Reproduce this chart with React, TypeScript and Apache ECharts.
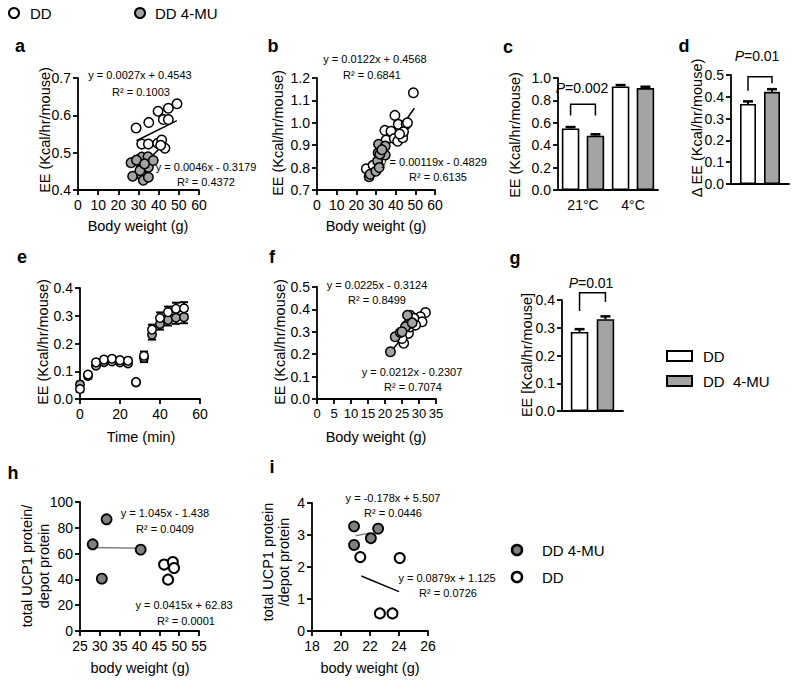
import React, { useEffect, useRef } from 'react';
import * as echarts from 'echarts';

const FONT = "'Liberation Sans', Arial, Helvetica, sans-serif";
const GREY = '#a3a3a3';
const DARK_GREY = '#808080';

// ---------- data ----------
// a: EE vs body weight (21°C)
const aDD = [[28.8, 0.566], [35.1, 0.581], [39.7, 0.611], [44.8, 0.619], [49.1, 0.631], [42.3, 0.589], [44.8, 0.589], [31.6, 0.523], [34.9, 0.523], [39.5, 0.525], [41.5, 0.534], [43.1, 0.512], [41.0, 0.52]];
const a4MU = [[26.3, 0.473], [31.6, 0.488], [34.7, 0.489], [27.1, 0.437], [31.6, 0.463], [34.9, 0.461], [37.3, 0.479], [31.6, 0.439], [32.4, 0.426], [30.7, 0.452], [34.9, 0.434], [29.0, 0.48], [33.0, 0.47]];
const aFitDD = [[29, 0.532], [49, 0.586]];
const aFit4MU = [[33, 0.47], [42, 0.52]];
const aEq = ['y = 0.0027x + 0.4543', 'R² = 0.1003', 'y = 0.0046x - 0.3179', 'R² = 0.4372'];

// b: EE vs body weight (4°C)
const bDD = [[25.1, 0.795], [28.5, 0.81], [34.5, 0.966], [35.1, 0.923], [37.6, 0.962], [39.3, 0.93], [39.6, 1.033], [41.0, 0.918], [41.3, 0.993], [43.6, 0.933], [45.3, 0.993], [44.0, 0.96], [46.0, 1.0], [49.0, 1.134], [42.0, 0.95]];
const b4MU = [[26.5, 0.759], [27.0, 0.77], [29.9, 0.784], [30.8, 0.829], [31.1, 0.866], [31.3, 0.904], [31.6, 0.8], [34.7, 0.896], [34.7, 0.856], [32.0, 0.86], [33.0, 0.88]];
const bFitDD = [[26, 0.775], [49.5, 1.065]];
const bFit4MU = [[26, 0.76], [35, 0.89]];
const bEq = ['y = 0.0122x + 0.4568', 'R² = 0.6841', 'y = 0.00119x - 0.4829', 'R² = 0.6135'];

// c: bars
const cCategories = ['21°C', '4°C'];
const cDD = [0.55, 0.925];
const cDDErr = [0.012, 0.012];
const c4MU = [0.485, 0.91];
const c4MUErr = [0.012, 0.012];
const cBracket = { cat: 0, top: 0.766, left: 0.665, right: 0.665, label: '=0.002' };

// d: delta EE
const dDD = [0.367];
const dDDErr = [0.012];
const d4MU = [0.423];
const d4MUErr = [0.012];
const dBracket = { cat: 0, top: 0.492, left: 0.428, right: 0.462, label: '=0.01' };

// e: time course
const eTime = [0, 4, 8, 12, 16, 20, 24, 28, 32, 36, 40, 44, 48, 52];
const eDD = [0.036, 0.088, 0.132, 0.142, 0.145, 0.14, 0.138, 0.061, 0.156, 0.25, 0.292, 0.313, 0.325, 0.327];
const eDDErr = [0.01, 0.008, 0.008, 0.008, 0.008, 0.008, 0.008, 0.008, 0.015, 0.018, 0.02, 0.02, 0.022, 0.022];
const e4MU = [0.052, 0.083, 0.12, 0.133, 0.135, 0.132, 0.128, 0.06, 0.148, 0.232, 0.27, 0.285, 0.293, 0.295];
const e4MUErr = [0.01, 0.008, 0.008, 0.008, 0.008, 0.008, 0.008, 0.008, 0.015, 0.018, 0.02, 0.02, 0.022, 0.022];

// f: EE vs body weight
const fDD = [[25.5, 0.249], [27.4, 0.374], [26.9, 0.293], [31.9, 0.386], [30.4, 0.367], [30.9, 0.345], [27.4, 0.322], [29.0, 0.33], [28.5, 0.36], [25.0, 0.27]];
const f4MU = [[21.6, 0.211], [23.0, 0.278], [24.5, 0.297], [26.5, 0.33], [26.6, 0.374], [26.0, 0.322], [25.0, 0.3], [28.0, 0.34]];
const fFitDD = [[24.5, 0.27], [30, 0.345]];
const fFit4MU = [[21.4, 0.205], [26.5, 0.3]];
const fEq = ['y = 0.0225x - 0.3124', 'R² = 0.8499', 'y = 0.0212x - 0.2307', 'R² = 0.7074'];

// g: bars
const gDD = [0.285];
const gDDErr = [0.01];
const g4MU = [0.331];
const g4MUErr = [0.01];
const gBracket = { cat: 0, top: 0.426, left: 0.36, right: 0.393, label: '=0.01' };

// h: UCP1 vs body weight
const hDD = [[46.2, 51.5], [48.4, 53.5], [48.7, 48.8], [47.2, 39.8]];
const h4MU = [[28.2, 67.2], [31.7, 86.6], [30.5, 40.6], [40.3, 63.1]];
const hFit4MU = [[28, 64.8], [40, 64.2]];
const hEq = ['y = 1.045x - 1.438', 'R² = 0.0409', 'y = 0.0415x + 62.83', 'R² = 0.0001'];

// i: UCP1 vs body weight
const iDD = [[21.33, 2.31], [24.05, 2.28], [22.68, 0.55], [23.55, 0.55]];
const i4MU = [[20.9, 3.27], [20.9, 2.69], [22.06, 2.9], [22.56, 3.2]];
const iFit4MU = [[21, 2.98], [22, 3.06]];
const iFitDD = [[21.4, 1.72], [24, 1.23]];
const iEq = ['y = -0.178x + 5.507', 'R² = 0.0446', 'y = 0.0879x + 1.125', 'R² = 0.0726'];

// ---------- layout / styles ----------
const grids = [
  { left: 78, top: 78, width: 121, height: 112 }, // a
  { left: 317, top: 78, width: 118, height: 112 }, // b
  { left: 558, top: 78, width: 100, height: 112 }, // c
  { left: 731, top: 75, width: 58, height: 109 }, // d
  { left: 80, top: 288, width: 120, height: 111 }, // e
  { left: 317, top: 287, width: 119, height: 112 }, // f
  { left: 562, top: 300, width: 61, height: 111 }, // g
  { left: 80, top: 502, width: 119, height: 129 }, // h
  { left: 312, top: 503, width: 116, height: 128 }, // i
];

const axisLine = { show: true, onZero: false, lineStyle: { color: '#000', width: 1.8 } };
const axisTick = { show: true, length: 5, lineStyle: { color: '#000', width: 1.8 } };

function valX(idx: number, min: number, max: number, interval: number, fontSize = 14) {
  return {
    type: 'value', gridIndex: idx, min, max, interval,
    axisLine, axisTick, splitLine: { show: false },
    axisLabel: { color: '#000', fontSize, fontFamily: FONT, margin: 8 },
  };
}
function valY(idx: number, min: number, max: number, interval: number, dec: number) {
  return {
    type: 'value', gridIndex: idx, min, max, interval,
    axisLine, axisTick, splitLine: { show: false },
    axisLabel: { color: '#000', fontSize: 14, fontFamily: FONT, margin: 7, formatter: (v: number) => v.toFixed(dec) },
  };
}
function catX(idx: number, data: string[], showLabel: boolean) {
  return {
    type: 'category', gridIndex: idx, data,
    axisLine, axisTick: { show: false }, splitLine: { show: false },
    axisLabel: { show: showLabel, color: '#000', fontSize: 14, fontFamily: FONT, margin: 8 },
  };
}

function scat(data: number[][], idx: number, fill: string, size = 9, bw = 1.5) {
  return {
    type: 'scatter', xAxisIndex: idx, yAxisIndex: idx, data, symbol: 'circle', symbolSize: size,
    itemStyle: { color: fill, borderColor: '#000', borderWidth: bw, opacity: 1 }, z: 4,
  };
}
function fit(data: number[][], idx: number, color = '#000') {
  return {
    type: 'line', xAxisIndex: idx, yAxisIndex: idx, data, symbol: 'none', silent: true,
    lineStyle: { color, width: 1.5 }, z: 3,
  };
}
function bars(data: number[], idx: number, fill: string, barWidth: number, barGap: number) {
  return {
    type: 'bar', xAxisIndex: idx, yAxisIndex: idx, data, barWidth, barGap: `${barGap * 100}%`,
    itemStyle: { color: fill, borderColor: '#000', borderWidth: 1.6 }, z: 2,
  };
}
function barErr(vals: number[], errs: number[], idx: number, sign: number, barWidth: number, barGap: number) {
  return {
    type: 'custom', xAxisIndex: idx, yAxisIndex: idx, z: 5, silent: true,
    encode: { x: 0, y: 1 },
    data: vals.map((v, i) => [i, v, errs[i]]),
    renderItem: (_p: any, api: any) => {
      const off = sign * barWidth * (1 + barGap) / 2;
      const base = api.coord([api.value(0), api.value(1)]);
      const top = api.coord([api.value(0), api.value(1) + api.value(2)]);
      const x = base[0] + off;
      return {
        type: 'group', children: [
          { type: 'line', shape: { x1: x, y1: base[1], x2: x, y2: top[1] }, style: { stroke: '#000', lineWidth: 2 } },
          { type: 'line', shape: { x1: x - 5, y1: top[1], x2: x + 5, y2: top[1] }, style: { stroke: '#000', lineWidth: 2.5 } },
        ],
      };
    },
  };
}
function bracket(b: { cat: number; top: number; left: number; right: number }, idx: number, barWidth: number, barGap: number) {
  return {
    type: 'custom', xAxisIndex: idx, yAxisIndex: idx, z: 5, silent: true,
    encode: { x: 0, y: 1 },
    data: [[b.cat, b.top, b.left, b.right]],
    renderItem: (_p: any, api: any) => {
      const off = barWidth * (1 + barGap) / 2;
      const t = api.coord([api.value(0), api.value(1)]);
      const l = api.coord([api.value(0), api.value(2)]);
      const r = api.coord([api.value(0), api.value(3)]);
      return {
        type: 'polyline',
        shape: { points: [[t[0] - off, l[1]], [t[0] - off, t[1]], [t[0] + off, t[1]], [t[0] + off, r[1]]] },
        style: { stroke: '#000', lineWidth: 1.5, fill: 'none' },
      };
    },
  };
}
function pointErr(xs: number[], ys: number[], errs: number[], idx: number) {
  return {
    type: 'custom', xAxisIndex: idx, yAxisIndex: idx, z: 3, silent: true,
    encode: { x: 0, y: 1 },
    data: xs.map((x, i) => [x, ys[i], errs[i]]),
    renderItem: (_p: any, api: any) => {
      const lo = api.coord([api.value(0), api.value(1) - api.value(2)]);
      const hi = api.coord([api.value(0), api.value(1) + api.value(2)]);
      const x = lo[0];
      return {
        type: 'group', children: [
          { type: 'line', shape: { x1: x, y1: lo[1], x2: x, y2: hi[1] }, style: { stroke: '#000', lineWidth: 2 } },
          { type: 'line', shape: { x1: x - 4, y1: lo[1], x2: x + 4, y2: lo[1] }, style: { stroke: '#000', lineWidth: 2 } },
          { type: 'line', shape: { x1: x - 4, y1: hi[1], x2: x + 4, y2: hi[1] }, style: { stroke: '#000', lineWidth: 2 } },
        ],
      };
    },
  };
}

function txt(text: string, x: number, y: number, size: number, extra: any = {}) {
  const align = extra.align || 'center';
  return {
    type: 'text', x, y, rotation: extra.rotation || 0, z: 10, silent: true,
    style: {
      text, fontSize: size, fontFamily: FONT, fill: '#000', fontWeight: extra.bold ? 'bold' : 'normal',
      align, verticalAlign: 'middle', textAlign: align, textVerticalAlign: 'middle',
      lineHeight: extra.lineHeight, rich: extra.rich,
    },
  };
}
function ptxt(label: string, x: number, y: number) {
  return {
    type: 'text', x, y, z: 10, silent: true,
    style: {
      text: `{i|P}{n|${label}}`, fontSize: 14, fontFamily: FONT, fill: '#000',
      align: 'center', verticalAlign: 'middle', textAlign: 'center', textVerticalAlign: 'middle',
      rich: { i: { fontStyle: 'italic', fontSize: 14, fontFamily: FONT }, n: { fontSize: 14, fontFamily: FONT } },
    },
  };
}
function circle(cx: number, cy: number, fill: string, lw = 2) {
  return { type: 'circle', shape: { cx, cy, r: 5 }, style: { fill, stroke: '#000', lineWidth: lw }, z: 10, silent: true };
}
function rect(x: number, y: number, fill: string) {
  return { type: 'rect', shape: { x, y, width: 25, height: 10 }, style: { fill, stroke: '#000', lineWidth: 2 }, z: 10, silent: true };
}

const ROT = Math.PI / 2;
const BW_C = 17.5, GAP_C = 0.42;
const BW_D = 16, GAP_D = 0.5;
const BW_G = 17.5, GAP_G = 0.48;

function buildOption(): any {
  const eqSize = 11;
  return {
    animation: false,
    backgroundColor: '#fff',
    textStyle: { fontFamily: FONT },
    grid: grids,
    xAxis: [
      valX(0, 0, 60, 10),
      valX(1, 0, 60, 10),
      catX(2, cCategories, true),
      catX(3, [''], false),
      valX(4, 0, 60, 20),
      valX(5, 0, 35, 5, 13),
      catX(6, [''], false),
      valX(7, 25, 55, 5),
      valX(8, 18, 26, 2),
    ],
    yAxis: [
      valY(0, 0.4, 0.7, 0.1, 1),
      valY(1, 0.7, 1.2, 0.1, 1),
      valY(2, 0, 1, 0.2, 1),
      valY(3, 0, 0.5, 0.1, 1),
      valY(4, 0, 0.4, 0.1, 1),
      valY(5, 0, 0.5, 0.1, 1),
      valY(6, 0, 0.4, 0.1, 1),
      valY(7, 0, 100, 20, 0),
      valY(8, 0, 4, 1, 0),
    ],
    series: [
      // a
      fit(aFitDD, 0), fit(aFit4MU, 0),
      scat(a4MU, 0, GREY, 9.5), scat(aDD, 0, '#fff', 9.5),
      // b
      fit(bFitDD, 1), fit(bFit4MU, 1),
      scat(bDD, 1, '#fff', 9.5), scat(b4MU, 1, GREY, 9.5),
      // c
      bars(cDD, 2, '#fff', BW_C, GAP_C), bars(c4MU, 2, GREY, BW_C, GAP_C),
      barErr(cDD, cDDErr, 2, -1, BW_C, GAP_C), barErr(c4MU, c4MUErr, 2, 1, BW_C, GAP_C),
      bracket(cBracket, 2, BW_C, GAP_C),
      // d
      bars(dDD, 3, '#fff', BW_D, GAP_D), bars(d4MU, 3, GREY, BW_D, GAP_D),
      barErr(dDD, dDDErr, 3, -1, BW_D, GAP_D), barErr(d4MU, d4MUErr, 3, 1, BW_D, GAP_D),
      bracket(dBracket, 3, BW_D, GAP_D),
      // e
      pointErr(eTime, e4MU, e4MUErr, 4),
      scat(eTime.map((t, i) => [t, e4MU[i]]), 4, GREY, 8.5),
      pointErr(eTime, eDD, eDDErr, 4),
      scat(eTime.map((t, i) => [t, eDD[i]]), 4, '#fff', 8.5),
      // f
      fit(fFitDD, 5), fit(fFit4MU, 5),
      scat(fDD, 5, '#fff', 9.5), scat(f4MU, 5, GREY, 9.5),
      // g
      bars(gDD, 6, '#fff', BW_G, GAP_G), bars(g4MU, 6, GREY, BW_G, GAP_G),
      barErr(gDD, gDDErr, 6, -1, BW_G, GAP_G), barErr(g4MU, g4MUErr, 6, 1, BW_G, GAP_G),
      bracket(gBracket, 6, BW_G, GAP_G),
      // h
      fit(hFit4MU, 7, DARK_GREY),
      scat(h4MU, 7, DARK_GREY, 10, 1.8), scat(hDD, 7, '#fff', 10, 2),
      // i
      fit(iFit4MU, 8, DARK_GREY), fit(iFitDD, 8),
      scat(i4MU, 8, DARK_GREY, 10, 1.8), scat(iDD, 8, '#fff', 10, 2),
    ],
    graphic: [
      // top legend
      circle(14, 13, '#fff'), txt('DD', 30, 13, 15, { align: 'left' }),
      circle(140, 13, GREY), txt('DD 4-MU', 155, 13, 15, { align: 'left' }),
      // panel letters
      txt('a', 20, 46, 18, { bold: true }),
      txt('b', 273, 46, 18, { bold: true }),
      txt('c', 508, 47, 18, { bold: true }),
      txt('d', 684, 46, 18, { bold: true }),
      txt('e', 22, 257, 18, { bold: true }),
      txt('f', 272, 257, 18, { bold: true }),
      txt('g', 515, 258, 18, { bold: true }),
      txt('h', 13, 473, 18, { bold: true }),
      txt('i', 272, 467, 18, { bold: true }),
      // y axis names
      txt('EE (Kcal/hr/mouse)', 45, 130, 14.5, { rotation: ROT }),
      txt('EE (Kcal/hr/mouse)', 278, 133, 14.5, { rotation: ROT }),
      txt('EE (Kcal/hr/mouse)', 515, 135, 14.5, { rotation: ROT }),
      txt('Δ EE (Kcal/hr/mouse)', 697, 128, 14.5, { rotation: ROT }),
      txt('EE (Kcal/hr/mouse)', 43, 342, 14.5, { rotation: ROT }),
      txt('EE (Kcal/hr/mouse)', 280, 342, 14.5, { rotation: ROT }),
      txt('EE [Kcal/hr/mouse]', 527, 355, 14.5, { rotation: ROT }),
      txt('total UCP1 protein/\ndepot protein', 35, 566, 14.5, { rotation: ROT, lineHeight: 17 }),
      txt('total UCP1 protein\n/depot protein', 276, 562, 14.5, { rotation: ROT, lineHeight: 16 }),
      // x axis names
      txt('Body weight (g)', 138, 226, 14.5),
      txt('Body weight (g)', 376, 226, 14.5),
      txt('Time (min)', 141, 437, 14.5),
      txt('Body weight (g)', 376, 437, 14.5),
      txt('body weight (g)', 140, 668, 14.5),
      txt('body weight (g)', 370, 668, 14.5),
      // equations
      txt(aEq[0], 140, 75, eqSize), txt(aEq[1], 141, 92, eqSize),
      txt(aEq[2], 206, 167, eqSize), txt(aEq[3], 206, 182, eqSize),
      txt(bEq[0], 375, 59, eqSize), txt(bEq[1], 372, 75, eqSize),
      txt(bEq[2], 434, 162, eqSize), txt(bEq[3], 438, 177, eqSize),
      txt(fEq[0], 377, 285, eqSize), txt(fEq[1], 377, 300, eqSize),
      txt(fEq[2], 412, 372, eqSize), txt(fEq[3], 413, 387, eqSize),
      txt(hEq[0], 165, 513, eqSize), txt(hEq[1], 165, 529, eqSize),
      txt(hEq[2], 184, 605, eqSize), txt(hEq[3], 186, 621, eqSize),
      txt(iEq[0], 393, 498, eqSize), txt(iEq[1], 393, 513, eqSize),
      txt(iEq[2], 447, 578, eqSize), txt(iEq[3], 448, 593, eqSize),
      // P values
      ptxt(cBracket.label, 582, 88),
      ptxt(dBracket.label, 757, 56),
      ptxt(gBracket.label, 591, 283),
      // g legend
      rect(667, 351, '#fff'), txt('DD', 703, 356, 15, { align: 'left' }),
      rect(667, 376, GREY), txt('DD  4-MU', 703, 381, 15, { align: 'left' }),
      // bottom right legend
      circle(517, 550, DARK_GREY, 2.5), txt('DD 4-MU', 542, 550, 15, { align: 'left' }),
      circle(517, 577, '#fff', 2.5), txt('DD', 542, 577, 15, { align: 'left' }),
    ],
  };
}

export default function App() {
  const ref = useRef<HTMLDivElement>(null);
  useEffect(() => {
    const chart = echarts.init(ref.current as HTMLDivElement, null, { renderer: 'svg', width: 800, height: 684 });
    chart.setOption(buildOption());
    return () => chart.dispose();
  }, []);
  return (
    <div
      ref={ref}
      style={{ position: 'absolute', left: 0, top: 0, width: 800, height: 684, background: '#fff' }}
    />
  );
}
